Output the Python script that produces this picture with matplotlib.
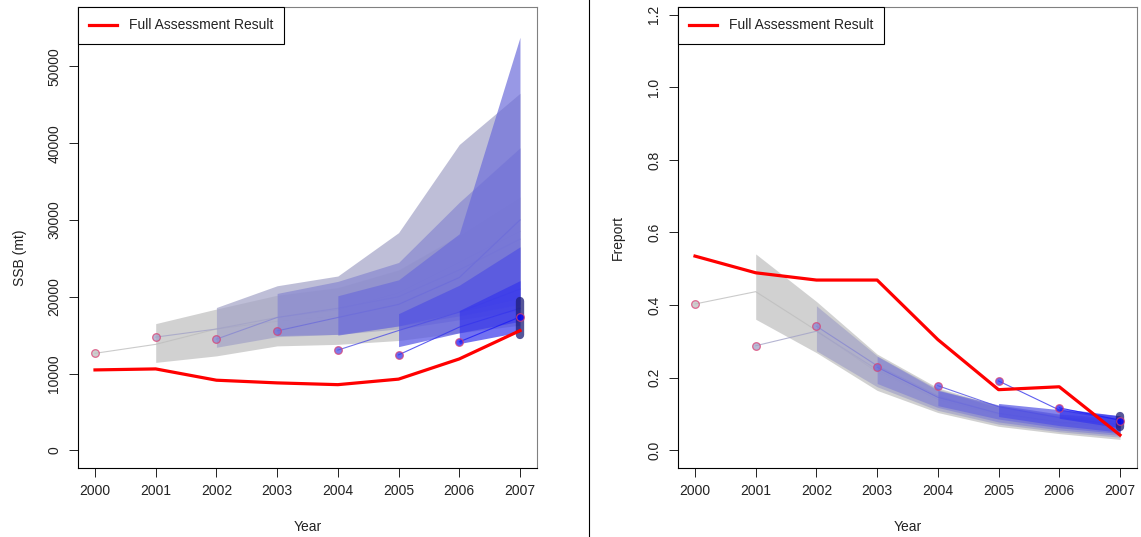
import numpy as np
import matplotlib.pyplot as plt

plt.rcParams['font.family'] = ['Liberation Sans', 'DejaVu Sans']

years = [2000, 2001, 2002, 2003, 2004, 2005, 2006, 2007]

# ---- SSB panel ----
ssb_full = [10470, 10600, 9130, 8780, 8550, 9270, 11900, 15590]
ssb_point = [12630, 14740, 14480, 15550, 13050, 12430, 14120, 17300]
# projections made in year i, values for years i+1 .. 2007
ssb_med = [
    [13800, 15800, 16800, 17500, 18800, 21500, 24500],
    [15800, 17300, 18300, 20500, 24500, 28500],
    [17300, 18500, 20000, 23500, 27500],
    [17300, 19000, 22500, 30000],
    [15600, 18000, 21000],
    [16040, 18500],
    [17370],
]
ssb_lo = [
    [11450, 12300, 13600, 13800, 14300, 15300, 16300],
    [13420, 14800, 15100, 15800, 17000, 18200],
    [14935, 15100, 16200, 17500, 19000],
    [15000, 16200, 18000, 19800],
    [13500, 15300, 16800],
    [13900, 15400],
    [15000],
]
ssb_hi = [
    [16500, 18400, 20200, 21200, 23500, 28000, 33000],
    [18600, 21430, 22700, 28350, 39830, 46500],
    [20430, 22000, 24460, 32300, 39400],
    [20130, 22200, 28200, 53800],
    [17800, 21500, 26500],
    [18200, 22100],
    [19500],
]

# ---- Freport panel ----
f_full = [0.535, 0.489, 0.469, 0.469, 0.305, 0.167, 0.175, 0.042]
f_point = [0.403, 0.288, 0.342, 0.229, 0.178, 0.191, 0.117, 0.080]
f_med = [
    [0.437, 0.330, 0.215, 0.140, 0.098, 0.075, 0.058],
    [0.328, 0.222, 0.140, 0.097, 0.073, 0.057],
    [0.233, 0.150, 0.100, 0.075, 0.060],
    [0.146, 0.102, 0.078, 0.063],
    [0.120, 0.090, 0.070],
    [0.111, 0.083],
    [0.083],
]
f_lo = [
    [0.361, 0.269, 0.165, 0.104, 0.066, 0.046, 0.030],
    [0.274, 0.175, 0.110, 0.072, 0.051, 0.036],
    [0.184, 0.118, 0.078, 0.056, 0.041],
    [0.123, 0.086, 0.062, 0.046],
    [0.093, 0.068, 0.050],
    [0.088, 0.062],
    [0.065],
]
f_hi = [
    [0.541, 0.410, 0.265, 0.172, 0.122, 0.098, 0.082],
    [0.398, 0.260, 0.168, 0.120, 0.095, 0.080],
    [0.259, 0.165, 0.118, 0.094, 0.080],
    [0.165, 0.125, 0.100, 0.088],
    [0.129, 0.112, 0.095],
    [0.116, 0.095],
    [0.095],
]

# grey -> blue palette, one colour per projection year
t = np.linspace(0, 1, 8)
pal = [((190 - 190 * s) / 255, (190 - 190 * s) / 255, (190 + 65 * s) / 255) for s in t]

W, H = 1141, 537
fig = plt.figure(figsize=(W / 100, H / 100), dpi=100)


def panel(x0, point, med, lo, hi, full, ylim, yticks, yticklabels):
    ax = fig.add_axes([x0 / W, (H - 467.5) / H, 458.5 / W, 460.2 / H])
    # draw each projection in turn so later bands sit over earlier lines
    for i in range(len(med)):
        yrs = years[i + 1:]
        c = pal[i]
        if len(yrs) > 1:
            ax.fill_between(yrs, lo[i], hi[i], color=c, alpha=0.7, lw=0, zorder=2)
        else:
            # single year band -> thick bar
            ax.plot([yrs[0], yrs[0]], [lo[i][0], hi[i][0]], color='#1e1e78',
                    alpha=0.75, lw=6, solid_capstyle='round', zorder=2)
        ax.plot([years[i]] + yrs, [point[i]] + med[i], color=c, alpha=0.8, lw=0.8, zorder=2)
        ax.plot(years[i], point[i], 'o', ms=5.5, mfc=pal[i], mec=(0.85, 0.25, 0.45),
                mew=0.9, alpha=0.75, zorder=2)
    ax.plot(years[7], point[7], 'o', ms=5.5, mfc=pal[7], mec=(0.85, 0.25, 0.45),
            mew=0.9, alpha=0.75, zorder=2)
    ax.plot(years, full, color='red', lw=2.3, zorder=5, label='Full Assessment Result')

    ax.set_xlim(1999.725, 2007.277)
    ax.set_ylim(*ylim)
    ax.set_xticks(years)
    ax.set_yticks(yticks)
    ax.set_yticklabels(yticklabels, rotation=90, va='center')
    ax.tick_params(direction='out', length=6.2, width=0.7, labelsize=10, pad=6, colors='#222222')
    for side in ['left', 'bottom']:
        ax.spines[side].set_color('black')
        ax.spines[side].set_linewidth(0.8)
    for side in ['top', 'right']:
        ax.spines[side].set_color('#808080')
        ax.spines[side].set_linewidth(0.8)

    leg = ax.legend(loc='upper left', borderaxespad=0, fancybox=False, fontsize=10,
                    borderpad=0.8, handlelength=2.0, handletextpad=0.85, framealpha=1)
    leg.get_frame().set_edgecolor('black')
    leg.get_frame().set_linewidth(0.8)
    for txt in leg.get_texts():
        txt.set_color('#222222')

    ax.text(0.5, -(527 - 467.5) / 460.2, 'Year', transform=ax.transAxes,
            ha='center', va='center', fontsize=10, color='#222222')
    return ax


ax1 = panel(78.3, ssb_point, ssb_med, ssb_lo, ssb_hi, ssb_full,
            (-2240, 57700), [0, 10000, 20000, 30000, 40000, 50000],
            ['0', '10000', '20000', '30000', '40000', '50000'])
ax1.text((20 - 78.3) / 458.5, 0.5 + (237.4 - 258) / 460.2, 'SSB (mt)', transform=ax1.transAxes,
         rotation=90, ha='center', va='center', fontsize=10, color='#222222')

ax2 = panel(678.3, f_point, f_med, f_lo, f_hi, f_full,
            (-0.0474, 1.2204), [0.0, 0.2, 0.4, 0.6, 0.8, 1.0, 1.2],
            ['0.0', '0.2', '0.4', '0.6', '0.8', '1.0', '1.2'])
ax2.text((618 - 678.3) / 459.5, 0.5 + (237.4 - 238) / 460.2, 'Freport', transform=ax2.transAxes,
         rotation=90, ha='center', va='center', fontsize=10, color='#222222')

# divider between the two panels
fig.add_artist(plt.Line2D([589 / W, 589 / W], [0, 1], color='black', lw=0.8))

fig.savefig('out.png', dpi=100)
